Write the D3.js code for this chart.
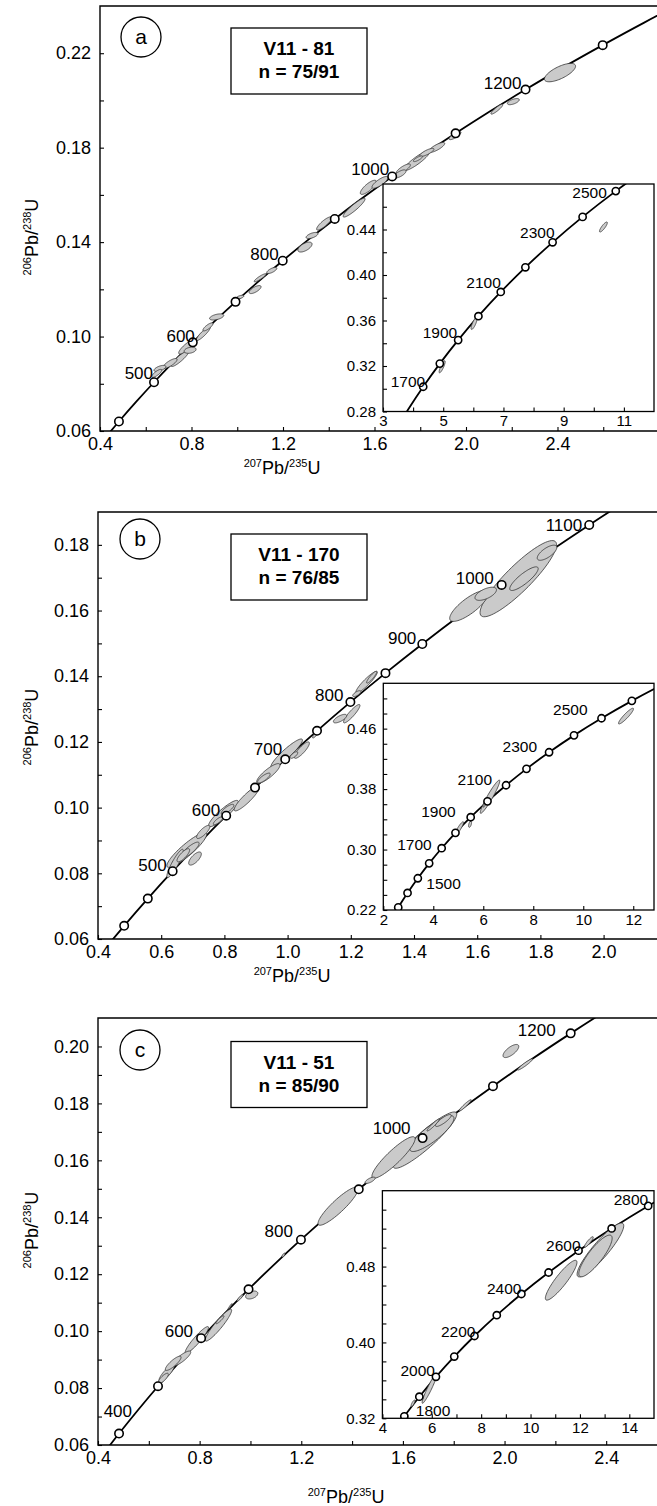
<!DOCTYPE html>
<html>
<head>
<meta charset="utf-8">
<script src="https://cdn.jsdelivr.net/npm/d3@7"></script>
<style>
body { margin: 0; background: #fff; }
svg { display: block; font-family: "Liberation Sans", Arial, sans-serif; }
</style>
</head>
<body>
<svg id="chart" width="657" height="1506"></svg>
<script>

var concordiaAges = [300, 350, 400, 450, 500, 550, 600, 650, 700, 750, 800, 850, 900, 950, 1000,
    1050, 1100, 1150, 1200, 1250, 1300, 1350, 1400, 1500, 1600, 1700, 1800, 1900, 2000, 2100,
    2200, 2300, 2400, 2500, 2600, 2700, 2800, 2900];
var concordiaX = [0.3437, 0.4116, 0.4828, 0.5576, 0.6362, 0.7189, 0.8057, 0.8969, 0.9925, 1.0931,
    1.1987, 1.3097, 1.4263, 1.5488, 1.6774, 1.8125, 1.9545, 2.1036, 2.2603, 2.4248, 2.5976, 2.779,
    2.9699, 3.3812, 3.8346, 4.3349, 4.8871, 5.4958, 6.1687, 6.9106, 7.7287, 8.6322, 9.6292,
    10.7301, 11.944, 13.284, 14.763, 16.393];
var concordiaY = [0.04764, 0.05579, 0.06402, 0.07230, 0.08065, 0.08906, 0.09754, 0.10609, 0.11470,
    0.12338, 0.13213, 0.14094, 0.14982, 0.15878, 0.16781, 0.17688, 0.18606, 0.19531, 0.20460,
    0.21400, 0.22342, 0.23297, 0.24257, 0.26199, 0.28171, 0.30176, 0.32211, 0.34277, 0.36377,
    0.38510, 0.40677, 0.42873, 0.45109, 0.47375, 0.49677, 0.52017, 0.54395, 0.56810];

// marker ages and labelled ages per plot
var markersA = [400, 500, 600, 700, 800, 900, 1000, 1100, 1200, 1300];
var labelsA = [500, 600, 800, 1000, 1200];
var markersInsetA = [1700, 1800, 1900, 2000, 2100, 2200, 2300, 2400, 2500];
var labelsInsetA = [1700, 1900, 2100, 2300, 2500];
var markersB = [400, 450, 500, 600, 650, 700, 750, 800, 850, 900, 1000, 1100];
var labelsB = [500, 600, 700, 800, 900, 1000, 1100];
var markersInsetB = [1300, 1400, 1500, 1600, 1700, 1800, 1900, 2000, 2100, 2200, 2300, 2400, 2500, 2600];
var labelsInsetB = [1500, 1700, 1900, 2100, 2300, 2500];
var markersC = [400, 500, 600, 700, 800, 900, 1000, 1100, 1200];
var labelsC = [400, 600, 800, 1000, 1200];
var markersInsetC = [1800, 1900, 2000, 2100, 2200, 2300, 2400, 2500, 2600, 2700, 2800];
var labelsInsetC = [1800, 2000, 2200, 2400, 2600, 2800];

// error ellipses: [207Pb/235U, 206Pb/238U, half width x, half width y, rho]
var ellipsesA = [
    [2.411, 0.2118, 0.068, 0.0039, 0.7], [2.207, 0.1995, 0.026, 0.0013, 0.6],
    [2.135, 0.1963, 0.026, 0.0021, 0.9], [1.952, 0.1851, 0.026, 0.0017, 0.8],
    [1.872, 0.1801, 0.035, 0.0021, 0.8], [1.785, 0.1745, 0.057, 0.0042, 0.9],
    [1.726, 0.1710, 0.031, 0.0021, 0.8], [1.712, 0.1689, 0.026, 0.0017, 0.7],
    [1.829, 0.1780, 0.031, 0.0017, 0.8], [1.790, 0.1753, 0.020, 0.0012, 0.8],
    [1.573, 0.1632, 0.035, 0.0030, 0.8], [1.624, 0.1653, 0.035, 0.0025, 0.8],
    [1.511, 0.1546, 0.048, 0.0040, 0.92], [1.380, 0.1479, 0.033, 0.0028, 0.85],
    [1.327, 0.1428, 0.026, 0.0013, 0.6], [1.296, 0.1379, 0.031, 0.0021, 0.6],
    [1.151, 0.1280, 0.022, 0.0013, 0.7], [1.100, 0.1249, 0.026, 0.0017, 0.9],
    [1.078, 0.1199, 0.026, 0.0017, 0.7], [1.012, 0.1167, 0.017, 0.0008, 0.6],
    [0.910, 0.1083, 0.031, 0.0013, 0.5], [0.852, 0.1013, 0.031, 0.0030, 0.9],
    [0.779, 0.0956, 0.035, 0.0030, 0.85], [0.794, 0.0942, 0.026, 0.0013, 0.3],
    [0.872, 0.1041, 0.022, 0.0017, 0.8], [0.750, 0.0907, 0.039, 0.0034, 0.9],
    [0.706, 0.0886, 0.031, 0.0021, 0.8], [0.662, 0.0865, 0.026, 0.0013, 0.6],
    [0.648, 0.0844, 0.022, 0.0017, 0.8]
];
var ellipsesInsetA = [
    [10.32, 0.4422, 0.13, 0.0044, 0.85], [6.025, 0.3574, 0.10, 0.0053, 0.8],
    [4.965, 0.3193, 0.10, 0.0053, 0.85]
];
var ellipsesB = [
    [1.730, 0.1697, 0.121, 0.0116, 0.89], [1.748, 0.1697, 0.045, 0.0036, 0.85],
    [1.821, 0.1776, 0.031, 0.0023, 0.7], [1.574, 0.1614, 0.061, 0.0047, 0.8],
    [1.627, 0.1651, 0.034, 0.0020, 0.6], [1.266, 0.1397, 0.016, 0.0018, 0.9],
    [1.250, 0.1382, 0.034, 0.0033, 0.92], [1.219, 0.1347, 0.013, 0.0009, 0.7],
    [1.203, 0.1286, 0.026, 0.0028, 0.9], [1.166, 0.1271, 0.021, 0.0013, 0.7],
    [1.092, 0.1227, 0.013, 0.0015, 0.9], [0.997, 0.1165, 0.050, 0.0044, 0.92],
    [1.045, 0.1175, 0.024, 0.0025, 0.85], [1.020, 0.1160, 0.012, 0.0010, 0.7],
    [0.939, 0.1104, 0.037, 0.0030, 0.85], [0.925, 0.1090, 0.020, 0.0015, 0.8],
    [0.871, 0.1028, 0.040, 0.0038, 0.9], [0.797, 0.0982, 0.047, 0.0040, 0.9],
    [0.810, 0.0995, 0.020, 0.0015, 0.8], [0.780, 0.0960, 0.015, 0.0012, 0.8],
    [0.733, 0.0926, 0.021, 0.0020, 0.8], [0.681, 0.0871, 0.063, 0.0053, 0.9],
    [0.690, 0.0870, 0.030, 0.0025, 0.85], [0.670, 0.0855, 0.020, 0.0020, 0.8],
    [0.707, 0.0845, 0.020, 0.0020, 0.7], [0.644, 0.0830, 0.026, 0.0043, 0.9]
];
var ellipsesInsetB = [
    [11.71, 0.4766, 0.30, 0.0104, 0.92], [6.27, 0.3699, 0.39, 0.0220, 0.95],
    [6.05, 0.3600, 0.06, 0.0040, 0.8], [5.04, 0.3280, 0.17, 0.0088, 0.9],
    [5.47, 0.3334, 0.06, 0.0040, 0.5]
];
var ellipsesC = [
    [2.025, 0.1984, 0.031, 0.0023, 0.7], [2.081, 0.1937, 0.030, 0.0020, 0.95],
    [1.845, 0.1793, 0.024, 0.0020, 0.95], [1.687, 0.1671, 0.125, 0.0099, 0.92],
    [1.714, 0.1694, 0.087, 0.0063, 0.85], [1.759, 0.1740, 0.031, 0.0021, 0.85],
    [1.719, 0.1724, 0.024, 0.0021, 0.95], [1.563, 0.1610, 0.085, 0.0073, 0.9],
    [1.471, 0.1530, 0.020, 0.0011, 0.7], [1.345, 0.1439, 0.079, 0.0067, 0.9],
    [1.130, 0.1267, 0.006, 0.0007, 0.7], [1.005, 0.1127, 0.024, 0.0014, 0.4],
    [0.959, 0.1117, 0.012, 0.0012, 0.9], [0.920, 0.1087, 0.008, 0.0010, 0.95],
    [0.874, 0.1021, 0.052, 0.0056, 0.93], [0.880, 0.1040, 0.016, 0.0014, 0.9],
    [0.789, 0.0969, 0.046, 0.0047, 0.93], [0.729, 0.0904, 0.036, 0.0026, 0.85],
    [0.696, 0.0887, 0.031, 0.0025, 0.85], [0.670, 0.0852, 0.030, 0.0029, 0.85],
    [0.657, 0.0834, 0.020, 0.0018, 0.8]
];
var ellipsesInsetC = [
    [12.83, 0.4975, 0.945, 0.0284, 0.9], [12.63, 0.4912, 0.675, 0.0220, 0.85],
    [11.24, 0.4656, 0.64, 0.0210, 0.9], [12.36, 0.5059, 0.18, 0.0056, 0.9],
    [5.91, 0.3516, 0.30, 0.0158, 0.95], [5.24, 0.3358, 0.08, 0.0035, 0.8]
];

// tick values
var xTicksA = [0.4, 0.8, 1.2, 1.6, 2.0, 2.4], xMinorA = [0.6, 1.0, 1.4, 1.8, 2.2, 2.6];
var yTicksA = [0.06, 0.10, 0.14, 0.18, 0.22], yMinorA = [0.08, 0.12, 0.16, 0.20];
var xTicksB = [0.4, 0.6, 0.8, 1.0, 1.2, 1.4, 1.6, 1.8, 2.0], xMinorB = [];
var yTicksB = [0.06, 0.08, 0.10, 0.12, 0.14, 0.16, 0.18], yMinorB = [0.07, 0.09, 0.11, 0.13, 0.15, 0.17];
var xTicksC = [0.4, 0.8, 1.2, 1.6, 2.0, 2.4], xMinorC = [0.6, 1.0, 1.4, 1.8, 2.2];
var yTicksC = [0.06, 0.08, 0.10, 0.12, 0.14, 0.16, 0.18, 0.20], yMinorC = [0.07, 0.09, 0.11, 0.13, 0.15, 0.17, 0.19];
var xTicksInsetA = [3, 5, 7, 9, 11], xMinorInsetA = [4, 6, 8, 10];
var yTicksInsetA = [0.28, 0.32, 0.36, 0.40, 0.44], yMinorInsetA = [0.30, 0.34, 0.38, 0.42, 0.46];
var xTicksInsetB = [2, 4, 6, 8, 10, 12], xMinorInsetB = [];
var yTicksInsetB = [0.22, 0.30, 0.38, 0.46], yMinorInsetB = [0.24, 0.26, 0.28, 0.32, 0.34, 0.36, 0.40, 0.42, 0.44, 0.48, 0.50];
var xTicksInsetC = [4, 6, 8, 10, 12, 14], xMinorInsetC = [5, 7, 9, 11, 13];
var yTicksInsetC = [0.32, 0.40, 0.48], yMinorInsetC = [0.34, 0.36, 0.38, 0.42, 0.44, 0.46, 0.50, 0.52, 0.54];

var sampleNames = ["V11 - 81", "V11 - 170", "V11 - 51"];
var sampleCounts = ["n = 75/91", "n = 76/85", "n = 85/90"];
var panelLetters = ["a", "b", "c"];


var svg = d3.select("#chart");

var concordia = concordiaAges.map(function(a, i) {
    return {age: a, x: concordiaX[i], y: concordiaY[i]};
});

function ratioAt(age) {
    for (var i in concordia)
        if (concordia[i].age == age) return concordia[i];
}

function ellipsePath(e, xs, ys) {
    var k = Math.sqrt(1 - e[4] * e[4]);
    var pts = d3.range(72).map(function(i) {
        var t = i / 72 * 2 * Math.PI;
        var u = Math.cos(t), v = Math.sin(t);
        return [xs(e[0] + e[2] * u), ys(e[1] + e[3] * (e[4] * u + k * v))];
    });
    return d3.line().curve(d3.curveLinearClosed)(pts);
}

var clipCount = 0;

function drawPlot(p) {
    var xs = d3.scaleLinear().domain(p.xDomain).range([p.left, p.right]);
    var ys = d3.scaleLinear().domain(p.yDomain).range([p.bottom, p.top]);
    var g = svg.append("g");

    if (p.inset)
        g.append("rect")
            .attr("x", p.left).attr("y", p.top)
            .attr("width", p.right - p.left).attr("height", p.bottom - p.top)
            .attr("fill", "#fff");

    var clipId = "clip" + (clipCount++);
    g.append("clipPath").attr("id", clipId).append("rect")
        .attr("x", p.left).attr("y", p.top)
        .attr("width", p.right - p.left).attr("height", p.bottom - p.top);

    var plot = g.append("g").attr("clip-path", "url(#" + clipId + ")");

    plot.append("path")
        .datum(concordia)
        .attr("fill", "none")
        .attr("stroke", "#000")
        .attr("stroke-width", 1.8)
        .attr("d", d3.line()
            .x(function(d) { return xs(d.x); })
            .y(function(d) { return ys(d.y); })
            .curve(d3.curveCatmullRom));

    var sorted = p.ellipses.slice().sort(function(a, b) {
        return b[2] * b[3] * Math.sqrt(1 - b[4] * b[4]) - a[2] * a[3] * Math.sqrt(1 - a[4] * a[4]);
    });

    plot.selectAll("path.ell")
        .data(sorted)
        .enter()
        .append("path")
        .attr("class", "ell")
        .attr("fill", "#cacaca")
        .attr("stroke", "#333")
        .attr("stroke-width", 0.8)
        .attr("d", function(d) { return ellipsePath(d, xs, ys); });

    plot.selectAll("circle")
        .data(p.markers.map(ratioAt))
        .enter()
        .append("circle")
        .attr("cx", function(d) { return xs(d.x); })
        .attr("cy", function(d) { return ys(d.y); })
        .attr("r", p.r)
        .attr("fill", "#fff")
        .attr("stroke", "#000")
        .attr("stroke-width", 1.6);

    g.selectAll("text.age")
        .data(p.labels.map(ratioAt))
        .enter()
        .append("text")
        .attr("class", "age")
        .attr("text-anchor", "end")
        .attr("font-size", p.labelFont)
        .attr("x", function(d) { return xs(d.x) + (p.offsets[d.age] || [-3, -2])[0]; })
        .attr("y", function(d) { return ys(d.y) + (p.offsets[d.age] || [-3, -2])[1]; })
        .text(function(d) { return d.age; });

    // ticks point inward, labels outside
    var xAxis = d3.axisBottom(xs).tickValues(p.xTicks).tickSize(-4).tickSizeOuter(0)
        .tickPadding(p.padX).tickFormat(d3.format(p.xFmt));
    var yAxis = d3.axisLeft(ys).tickValues(p.yTicks).tickSize(-4).tickSizeOuter(0)
        .tickPadding(p.padY).tickFormat(d3.format(p.yFmt));

    var ax = g.append("g").attr("transform", "translate(0," + p.bottom + ")").call(xAxis);
    var ay = g.append("g").attr("transform", "translate(" + p.left + ",0)").call(yAxis);
    var mx = g.append("g").attr("transform", "translate(0," + p.bottom + ")")
        .call(d3.axisBottom(xs).tickValues(p.xMinor).tickSize(-4).tickFormat(""));
    var my = g.append("g").attr("transform", "translate(" + p.left + ",0)")
        .call(d3.axisLeft(ys).tickValues(p.yMinor).tickSize(-4).tickFormat(""));

    [ax, ay, mx, my].forEach(function(a) {
        a.select(".domain").remove();
        a.selectAll("line").attr("stroke", "#000").attr("stroke-width", 1.1);
        a.selectAll("text").attr("font-size", p.tickFont)
            .attr("font-family", "'Liberation Sans', Arial, sans-serif").attr("fill", "#000");
    });

    if (p.inset) {
        g.append("rect")
            .attr("x", p.left).attr("y", p.top)
            .attr("width", p.right - p.left).attr("height", p.bottom - p.top)
            .attr("fill", "none").attr("stroke", "#000").attr("stroke-width", 1.3);
    } else {
        g.append("path")
            .attr("fill", "none").attr("stroke", "#000").attr("stroke-width", 1.4)
            .attr("d", "M" + p.right + "," + p.top + "H" + p.left + "V" + p.bottom + "H" + p.right);
    }
}

function yTitle(x, y) {
    var t = svg.append("text")
        .attr("transform", "translate(" + x + "," + y + ") rotate(-90)")
        .attr("text-anchor", "middle")
        .attr("font-size", 18);
    t.append("tspan").attr("font-size", 11).attr("dy", -7).text("206");
    t.append("tspan").attr("dy", 7).text("Pb/");
    t.append("tspan").attr("font-size", 11).attr("dy", -7).text("238");
    t.append("tspan").attr("dy", 7).text("U");
}

function xTitle(x, y) {
    var t = svg.append("text")
        .attr("x", x).attr("y", y)
        .attr("text-anchor", "middle")
        .attr("font-size", 18);
    t.append("tspan").attr("font-size", 11).attr("dy", -7).text("207");
    t.append("tspan").attr("dy", 7).text("Pb/");
    t.append("tspan").attr("font-size", 11).attr("dy", -7).text("235");
    t.append("tspan").attr("dy", 7).text("U");
}

function sampleBox(i, top) {
    svg.append("rect")
        .attr("x", 231).attr("y", top)
        .attr("width", 136).attr("height", 66)
        .attr("fill", "#fff").attr("stroke", "#000").attr("stroke-width", 1.3);
    svg.append("text")
        .attr("x", 299).attr("y", top + 27)
        .attr("text-anchor", "middle").attr("font-size", 19).attr("font-weight", "bold")
        .text(sampleNames[i]);
    svg.append("text")
        .attr("x", 299).attr("y", top + 50)
        .attr("text-anchor", "middle").attr("font-size", 19).attr("font-weight", "bold")
        .text(sampleCounts[i]);
}

function letterCircle(i, cx, cy) {
    svg.append("circle")
        .attr("cx", cx).attr("cy", cy).attr("r", 20)
        .attr("fill", "#fff").attr("stroke", "#000").attr("stroke-width", 1.3);
    svg.append("text")
        .attr("x", cx).attr("y", cy + 7)
        .attr("text-anchor", "middle").attr("font-size", 21)
        .text(panelLetters[i]);
}

var mainStyle = {inset: false, r: 4.2, labelFont: 17, tickFont: 18, padX: 6, padY: 9, xFmt: ".1f", yFmt: ".2f"};
var insetStyle = {inset: true, r: 3.6, labelFont: 15.5, tickFont: 15, padX: 4, padY: 7, xFmt: "d", yFmt: ".2f"};

// panel a
drawPlot(Object.assign({}, mainStyle, {
    left: 100, right: 657, top: 6, bottom: 431,
    xDomain: [0.4, 2.835], yDomain: [0.06, 0.24],
    ellipses: ellipsesA, markers: markersA, labels: labelsA,
    offsets: {500: [-1, -3], 600: [2, 0], 800: [-4, -1], 1000: [-3, -1], 1200: [-4, -1]},
    xTicks: xTicksA, xMinor: xMinorA, yTicks: yTicksA, yMinor: yMinorA
}));
drawPlot(Object.assign({}, insetStyle, {
    left: 383, right: 654, top: 184, bottom: 411.5,
    xDomain: [3, 12], yDomain: [0.28, 0.48],
    ellipses: ellipsesInsetA, markers: markersInsetA, labels: labelsInsetA,
    offsets: {1700: [2, 0], 1900: [-1, -2], 2100: [0, -4], 2300: [2, -4], 2500: [-9, 7]},
    xTicks: xTicksInsetA, xMinor: xMinorInsetA, yTicks: yTicksInsetA, yMinor: yMinorInsetA
}));

// panel b
drawPlot(Object.assign({}, mainStyle, {
    left: 98, right: 657, top: 512, bottom: 939,
    xDomain: [0.4, 2.169], yDomain: [0.06, 0.19],
    ellipses: ellipsesB, markers: markersB, labels: labelsB,
    offsets: {500: [-6, 0], 600: [-6, 0], 700: [-3, -4], 800: [-7, -1], 900: [-6, 0], 1000: [-8, -1], 1100: [-7, 6]},
    xTicks: xTicksB, xMinor: xMinorB, yTicks: yTicksB, yMinor: yMinorB
}));
drawPlot(Object.assign({}, insetStyle, {
    left: 383.3, right: 654, top: 683.3, bottom: 910,
    xDomain: [2, 12.83], yDomain: [0.22, 0.52],
    ellipses: ellipsesInsetB, markers: markersInsetB, labels: labelsInsetB,
    offsets: {1500: [43, 11], 1700: [-10, 2], 1900: [-15, 0], 2100: [-14, 0], 2300: [-12, 0], 2500: [-14, -3]},
    xTicks: xTicksInsetB, xMinor: xMinorInsetB, yTicks: yTicksInsetB, yMinor: yMinorInsetB
}));

// panel c
drawPlot(Object.assign({}, mainStyle, {
    left: 98, right: 657, top: 1018, bottom: 1445,
    xDomain: [0.4, 2.6], yDomain: [0.06, 0.21],
    ellipses: ellipsesC, markers: markersC, labels: labelsC,
    offsets: {400: [13, -17], 600: [-8, -1], 800: [-8, -3], 1000: [-12, -4], 1200: [-15, 3]},
    xTicks: xTicksC, xMinor: xMinorC, yTicks: yTicksC, yMinor: yMinorC
}));
drawPlot(Object.assign({}, insetStyle, {
    left: 382.4, right: 654, top: 1190.7, bottom: 1418.3,
    xDomain: [4, 15], yDomain: [0.32, 0.56],
    ellipses: ellipsesInsetC, markers: markersInsetC, labels: labelsInsetC,
    offsets: {1800: [46, 0], 2000: [-1, -1], 2200: [1, 1], 2400: [0, 0], 2600: [2, 0], 2800: [0, -1]},
    xTicks: xTicksInsetC, xMinor: xMinorInsetC, yTicks: yTicksInsetC, yMinor: yMinorInsetC
}));

yTitle(38, 237);
yTitle(38, 727);
yTitle(38, 1230);
xTitle(282, 474);
xTitle(292, 982);
xTitle(346, 1503);

sampleBox(0, 28);
sampleBox(1, 534);
sampleBox(2, 1041.5);

letterCircle(0, 141, 37);
letterCircle(1, 140, 539);
letterCircle(2, 140, 1050);

</script>
</body>
</html>
